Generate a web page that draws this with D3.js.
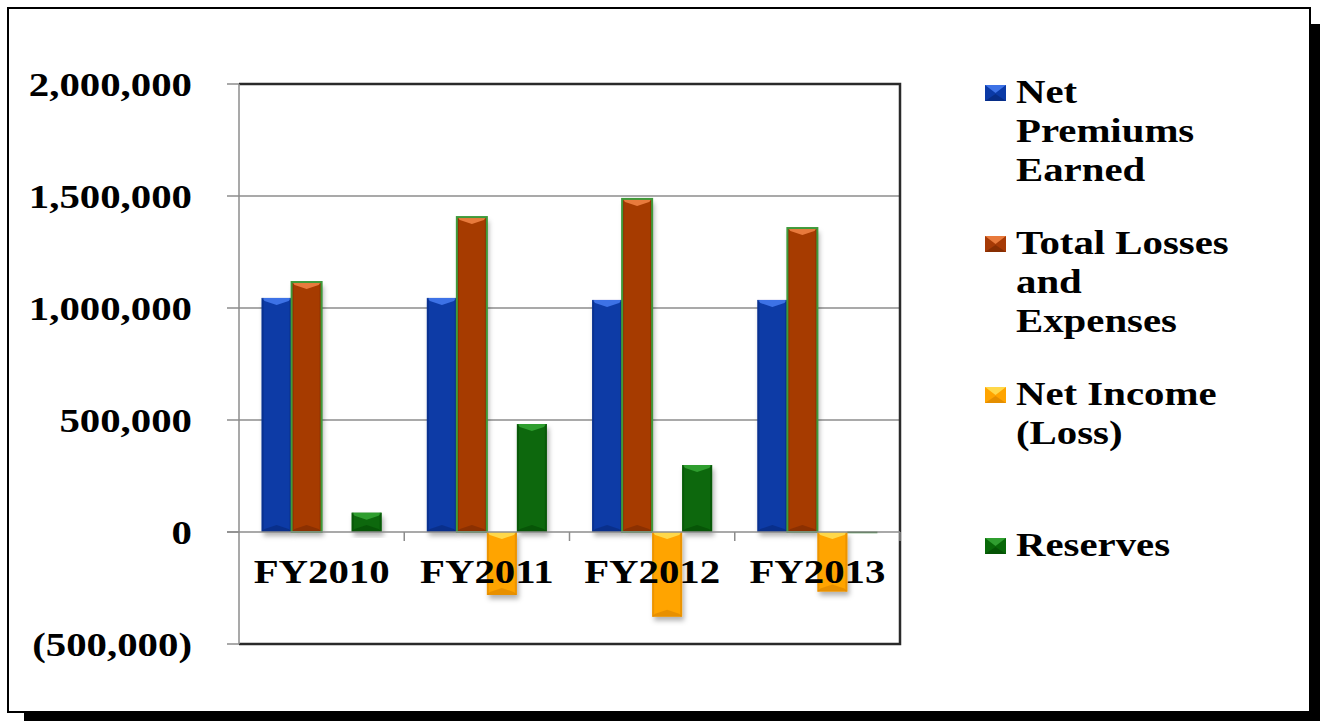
<!DOCTYPE html>
<html>
<head>
  <meta charset="utf-8">
  <script type="text/javascript" src="https://cdn.jsdelivr.net/npm/d3@7/dist/d3.min.js"></script>
  <title>Financial Summary FY2010-FY2013</title>
  <style>
    html, body { margin: 0; padding: 0; background: #fff; }
    svg { display: block; }
    text { font-family: "Liberation Serif", "Times New Roman", serif; font-weight: bold; fill: #000; }
  </style>
</head>
<body>
<svg width="1320" height="721"></svg>

<script type="text/javascript">

  // data
  var years = ["FY2010", "FY2011", "FY2012", "FY2013"];
  var seriesNames = ["Net Premiums Earned", "Total Losses and Expenses", "Net Income (Loss)", "Reserves"];
  var netPremiums = [1045000, 1045000, 1036000, 1036000];
  var totalLosses = [1116000, 1406000, 1487000, 1357000];
  var netIncome   = [0, -281000, -378000, -266000];
  var reserves    = [86000, 482000, 299000, 1500];
  var yTicks = [-500000, 0, 500000, 1000000, 1500000, 2000000];
  var legendLines = [["Net", "Premiums", "Earned"], ["Total Losses", "and", "Expenses"], ["Net Income", "(Loss)"], ["Reserves"]];

  var colors = [
    { base: "#0b3aa6", light: "#3d72e6", dark: "#06287a", stroke: "none" },
    { base: "#a63a06", light: "#e87a3c", dark: "#7a2a02", stroke: "#3f9a3a" },
    { base: "#ffa400", light: "#ffd84a", dark: "#d98400", stroke: "none" },
    { base: "#086808", light: "#2f9e2f", dark: "#044a04", stroke: "none" }
  ];

  var values = [netPremiums, totalLosses, netIncome, reserves];
  var W = 1320, H = 721;
  var stretch = 1.2; // text in the original is widened horizontally

  var svg = d3.select("svg");

  var defs = svg.append("defs");
  var f = defs.append("filter").attr("id", "shadow")
      .attr("x", "-20%").attr("y", "-20%").attr("width", "150%").attr("height", "150%");
  f.append("feDropShadow").attr("dx", 2).attr("dy", 4).attr("stdDeviation", 2.5)
      .attr("flood-color", "#000").attr("flood-opacity", 0.3);

  // outer frame with heavy drop shadow
  svg.append("rect").attr("x", 24).attr("y", 24).attr("width", W - 24).attr("height", H - 24).attr("fill", "#000");
  svg.append("rect").attr("x", 8).attr("y", 8).attr("width", 1302).attr("height", 704)
      .attr("fill", "#fff").attr("stroke", "#000").attr("stroke-width", 2);

  var plot = { left: 239, right: 900, top: 84, bottom: 644 };

  var x = d3.scaleBand().domain(years).range([plot.left, plot.right]);
  var xs = d3.scaleBand().domain(seriesNames).range([22.6, x.bandwidth() - 22.6]);
  var y = d3.scaleLinear().domain([-500000, 2000000]).range([plot.bottom, plot.top]);

  // gridlines
  svg.append("g").selectAll("line").data(yTicks.filter(function (d) { return d > 0 && d < 2000000; }))
      .enter().append("line")
      .attr("x1", plot.left).attr("x2", plot.right)
      .attr("y1", function (d) { return y(d); }).attr("y2", function (d) { return y(d); })
      .attr("stroke", "#8c8c8c").attr("stroke-width", 1.5);

  // plot area border (top, right, bottom)
  svg.append("path")
      .attr("d", ["M", plot.left, plot.top, "L", plot.right, plot.top, "L", plot.right, plot.bottom, "L", plot.left, plot.bottom].join(" "))
      .attr("fill", "none").attr("stroke", "#2a2a2a").attr("stroke-width", 2.5);

  // left axis
  svg.append("line").attr("x1", plot.left).attr("x2", plot.left).attr("y1", plot.top).attr("y2", plot.bottom)
      .attr("stroke", "#8c8c8c").attr("stroke-width", 1.5);
  svg.append("g").selectAll("line").data(yTicks).enter().append("line")
      .attr("x1", plot.left - 12).attr("x2", plot.left)
      .attr("y1", function (d) { return y(d); }).attr("y2", function (d) { return y(d); })
      .attr("stroke", "#8c8c8c").attr("stroke-width", 1.5);

  // bars
  var bars = [];
  years.forEach(function (yr, i) {
    seriesNames.forEach(function (s, j) {
      bars.push({ year: yr, series: s, j: j, v: values[j][i] });
    });
  });

  var gBars = svg.append("g");
  var bar = gBars.selectAll("g.bar").data(bars.filter(function (d) { return d.v !== 0; }))
      .enter().append("g").attr("class", "bar");

  function geom(d) {
    var x0 = x(d.year) + xs(d.series), x1 = x0 + xs.bandwidth();
    var yt = Math.min(y(d.v), y(0)), yb = Math.max(y(d.v), y(0));
    return { x0: x0, x1: x1, xm: (x0 + x1) / 2, yt: yt, yb: yb };
  }

  bar.append("rect")
      .attr("x", function (d) { return geom(d).x0; })
      .attr("y", function (d) { return geom(d).yt; })
      .attr("width", xs.bandwidth())
      .attr("height", function (d) { return Math.max(1.5, geom(d).yb - geom(d).yt); })
      .attr("fill", function (d) { return colors[d.j].base; })
      .attr("filter", "url(#shadow)");

  // bevel: light V at top, dark V at bottom, darker sides (only on bars tall enough)
  var tall = bar.filter(function (d) { var g = geom(d); return g.yb - g.yt > 8; });

  tall.append("polygon")
      .attr("points", function (d) {
        var g = geom(d), b = Math.min(7, (g.yb - g.yt) / 2);
        return [[g.x0, g.yt], [g.x1, g.yt], [g.x1 - 3, g.yt + 3], [g.xm, g.yt + b], [g.x0 + 3, g.yt + 3]].join(" ");
      })
      .attr("fill", function (d) { return colors[d.j].light; });
  tall.append("polygon")
      .attr("points", function (d) {
        var g = geom(d), b = Math.min(7, (g.yb - g.yt) / 2);
        return [[g.x0, g.yb], [g.x1, g.yb], [g.x1 - 3, g.yb - 3], [g.xm, g.yb - b], [g.x0 + 3, g.yb - 3]].join(" ");
      })
      .attr("fill", function (d) { return colors[d.j].dark; }).attr("opacity", 0.6);
  tall.append("rect")
      .attr("x", function (d) { return geom(d).x0; })
      .attr("y", function (d) { return geom(d).yt; })
      .attr("width", 2)
      .attr("height", function (d) { return geom(d).yb - geom(d).yt; })
      .attr("fill", function (d) { return colors[d.j].dark; }).attr("opacity", 0.5);
  tall.append("rect")
      .attr("x", function (d) { return geom(d).x1 - 2; })
      .attr("y", function (d) { return geom(d).yt; })
      .attr("width", 2)
      .attr("height", function (d) { return geom(d).yb - geom(d).yt; })
      .attr("fill", function (d) { return colors[d.j].dark; }).attr("opacity", 0.5);
  bar.filter(function (d) { return colors[d.j].stroke !== "none"; }).append("rect")
      .attr("x", function (d) { return geom(d).x0; })
      .attr("y", function (d) { return geom(d).yt; })
      .attr("width", xs.bandwidth())
      .attr("height", function (d) { return geom(d).yb - geom(d).yt; })
      .attr("fill", "none")
      .attr("stroke", function (d) { return colors[d.j].stroke; }).attr("stroke-width", 2);

  // zero axis with category ticks
  svg.append("line").attr("x1", plot.left - 12).attr("x2", plot.right).attr("y1", y(0)).attr("y2", y(0))
      .attr("stroke", "#8c8c8c").attr("stroke-width", 1.5);
  svg.append("g").selectAll("line").data(years.slice(1).concat(["end"])).enter().append("line")
      .attr("x1", function (d) { return d === "end" ? plot.right : x(d); })
      .attr("x2", function (d) { return d === "end" ? plot.right : x(d); })
      .attr("y1", y(0)).attr("y2", y(0) + 9)
      .attr("stroke", "#8c8c8c").attr("stroke-width", 1.5);

  // y tick labels
  var fmt = d3.format(",");
  svg.append("g").selectAll("text").data(yTicks).enter().append("text")
      .attr("transform", function (d) { return "translate(192," + (y(d) + 12) + ") scale(" + stretch + ",1)"; })
      .attr("text-anchor", "end")
      .style("font-size", "34px")
      .text(function (d) { return d < 0 ? "(" + fmt(-d) + ")" : fmt(d); });

  // category labels
  svg.append("g").selectAll("text").data(years).enter().append("text")
      .attr("transform", function (d) { return "translate(" + (x(d) + x.bandwidth() / 2) + "," + 583 + ") scale(" + stretch + ",1)"; })
      .attr("text-anchor", "middle")
      .style("font-size", "34px")
      .text(function (d) { return d; });

  // legend
  var leg = svg.append("g").selectAll("g").data(seriesNames).enter().append("g")
      .attr("transform", function (d, i) { return "translate(985," + (103 + i * 151) + ")"; });

  leg.append("rect").attr("x", 0).attr("y", -18).attr("width", 21).attr("height", 16)
      .attr("fill", function (d, i) { return colors[i].base; });
  leg.append("polygon").attr("points", "0,-18 21,-18 10.5,-10")
      .attr("fill", function (d, i) { return colors[i].light; });
  leg.append("polygon").attr("points", "0,-2 21,-2 10.5,-9")
      .attr("fill", function (d, i) { return colors[i].dark; }).attr("opacity", 0.7);

  leg.each(function (d, i) {
    var g = d3.select(this);
    legendLines[i].forEach(function (line, k) {
      g.append("text")
          .attr("transform", "translate(31," + (k * 39) + ") scale(" + stretch + ",1)")
          .style("font-size", "34px")
          .text(line);
    });
  });

</script>

</body>
</html>
